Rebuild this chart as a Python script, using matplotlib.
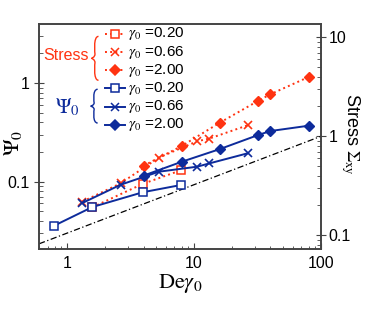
import matplotlib
matplotlib.use("Agg")
import matplotlib.pyplot as plt
from matplotlib.path import Path
from matplotlib.patches import PathPatch
from matplotlib.ticker import FormatStrFormatter, NullFormatter, LogLocator

plt.rcParams['font.family'] = ['Liberation Sans', 'DejaVu Sans']
plt.rcParams['mathtext.fontset'] = 'stix'

#------------------------------------------------------------------------------
# data (x = De*gamma0)

psi_x_020 = [0.79, 1.58, 3.95, 7.9]
psi_y_020 = [0.0357, 0.0552, 0.078, 0.0924]

psi_x_066 = [1.32, 2.64, 5.28, 10.56, 13.2, 26.4]
psi_y_066 = [0.0607, 0.093, 0.126, 0.1416, 0.153, 0.1936]

psi_x_200 = [4, 8, 16, 32, 40, 80]
psi_y_200 = [0.115, 0.159, 0.214, 0.297, 0.326, 0.369]

str_x_020 = [1.58, 3.95, 7.9]
str_y_020 = [0.192, 0.331, 0.454]

str_x_066 = [1.32, 2.64, 5.28, 10.56, 13.2, 26.4]
str_y_066 = [0.219, 0.335, 0.609, 0.89, 0.948, 1.29]

str_x_200 = [4, 8, 16, 32, 40, 80]
str_y_200 = [0.504, 0.798, 1.375, 2.28, 2.66, 3.97]

guide_x = [0.6, 100]
guide_y = [0.082, 1.0]

labels = ["0.20", "0.66", "2.00"]

red = '#ff3311'
blue = '#0d2b9b'
spine_col = '#444444'

#------------------------------------------------------------------------------

def brace(ax, x, y0, y1, w, color):
    # curly brace "{" in axes fraction, tip pointing left at mid height
    ym = 0.5 * (y0 + y1)
    h = y1 - y0
    verts = [(x + w, y1),
             (x + 0.2 * w, y1), (x + 0.5 * w, ym + 0.1 * h), (x + 0.5 * w, ym + 0.1 * h),
             (x + 0.5 * w, ym + 0.02 * h), (x, ym), (x, ym),
             (x, ym), (x + 0.5 * w, ym - 0.02 * h), (x + 0.5 * w, ym - 0.1 * h),
             (x + 0.5 * w, ym - 0.1 * h), (x + 0.2 * w, y0), (x + w, y0)]
    codes = [Path.MOVETO] + [Path.CURVE4] * 12
    ax.add_patch(PathPatch(Path(verts, codes), transform=ax.transAxes, fc='none',
                           ec=color, lw=1.0, clip_on=False))


fig = plt.figure(figsize=(3.74, 3.16), dpi=100)
ax = fig.add_axes([0.1043, 0.212, 0.7540, 0.712])
ax2 = ax.twinx()

ax.set_xscale('log')
ax.set_yscale('log')
ax2.set_yscale('log')
ax.set_xlim(0.6, 100)
ax.set_ylim(0.0207, 3.97)
ax2.set_ylim(0.0727, 13.6)

# stress on right axis (dotted red)
ax2.plot(guide_x, guide_y, color='black', lw=0.9, ls=(0, (5, 2, 1, 2)))
ax2.plot(str_x_020, str_y_020, color=red, ls=':', lw=1.4, marker='s', ms=6,
         mfc='white', mec=red, mew=1.1)
ax2.plot(str_x_066, str_y_066, color=red, ls=':', lw=1.4, marker='x', ms=6, mew=1.2)
ax2.plot(str_x_200, str_y_200, color=red, ls=':', lw=1.4, marker='D', ms=5.5)

# psi on left axis (solid blue), drawn above
ax.set_zorder(ax2.get_zorder() + 1)
ax.patch.set_visible(False)
ax.plot(psi_x_020, psi_y_020, color=blue, lw=1.4, marker='s', ms=6,
        mfc='white', mec=blue, mew=1.1)
ax.plot(psi_x_066, psi_y_066, color=blue, lw=1.4, marker='x', ms=6, mew=1.2)
ax.plot(psi_x_200, psi_y_200, color=blue, lw=1.4, marker='D', ms=5.5)

#------------------------------------------------------------------------------
# hand-made legend in axes fraction

rows = [0.956, 0.874, 0.794, 0.715, 0.632, 0.552]
styles = [(red, ':', 's', 'white'), (red, ':', 'x', red), (red, ':', 'D', red),
          (blue, '-', 's', 'white'), (blue, '-', 'x', blue), (blue, '-', 'D', blue)]
for i, (yy, st) in enumerate(zip(rows, styles)):
    c, ls, mk, fc = st
    ax.plot([0.234, 0.27, 0.305], [yy, yy, yy], transform=ax.transAxes,
            color=c, ls=ls, lw=1.4, marker=mk, markevery=[1], ms=6 if mk != 'D' else 5.5,
            mfc=fc, mec=c, mew=1.1, clip_on=False)
    ax.text(0.316, yy, r'$\gamma_0$ =' + labels[i % 3], transform=ax.transAxes,
            fontsize=11, va='center', ha='left')

ax.text(0.096, 0.862, 'Stress', color=red, fontsize=11.5, transform=ax.transAxes,
        ha='center', va='center')
brace(ax, 0.186, 0.75, 0.945, 0.025, red)
ax.text(0.100, 0.631, r'$\Psi_0$', color=blue, fontsize=15, transform=ax.transAxes,
        ha='center', va='center')
brace(ax, 0.183, 0.56, 0.71, 0.025, blue)

#------------------------------------------------------------------------------
# axes cosmetics

fmt = FormatStrFormatter('%g')
ax.xaxis.set_major_formatter(fmt)
ax.yaxis.set_major_formatter(fmt)
ax2.yaxis.set_major_formatter(fmt)
for a in (ax.xaxis, ax.yaxis, ax2.yaxis):
    a.set_minor_locator(LogLocator(subs=range(2, 10)))
    a.set_minor_formatter(NullFormatter())

ax.tick_params(axis='x', which='both', direction='in', top=False, labelsize=11.5, pad=5)
ax.tick_params(axis='x', which='major', length=4)
ax.tick_params(axis='x', which='minor', length=2.5)
ax.tick_params(axis='y', which='both', right=False, labelsize=11.5, pad=3)
ax.tick_params(axis='y', which='major', direction='inout', length=7)
ax.tick_params(axis='y', which='minor', direction='in', length=3)
ax2.tick_params(axis='y', which='both', left=False, labelsize=11.5, pad=2)
ax2.tick_params(axis='y', which='major', direction='inout', length=7)
ax2.tick_params(axis='y', which='minor', direction='in', length=3)

for a in (ax, ax2):
    for s in a.spines.values():
        s.set_color(spine_col)
        s.set_linewidth(1.2)
ax.tick_params(which='both', color=spine_col)
ax2.tick_params(which='both', color=spine_col)

ax.set_xlabel(r'$\mathrm{De}\gamma_0$', fontsize=16, labelpad=1)
ax.set_ylabel(r'$\Psi_0$', fontsize=16)
ax.yaxis.set_label_coords(-0.053, 0.47)
ax2.set_ylabel(r'Stress $\Sigma_{\mathrm{xy}}$', fontsize=13, rotation=-90)
ax2.yaxis.label.set_va('center')
ax2.yaxis.label.set_ha('center')
ax2.yaxis.set_label_coords(1.105, 0.51)

fig.savefig("out.png", dpi=100)
